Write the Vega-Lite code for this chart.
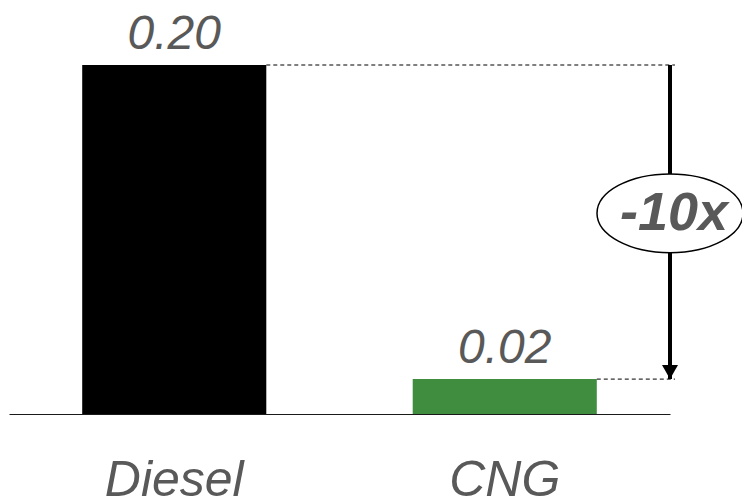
{
  "$schema": "https://vega.github.io/schema/vega-lite/v6.json",
  "width": 661,
  "height": 349,
  "autosize": {"type": "none"},
  "padding": {"left": 9, "top": 65, "right": 72, "bottom": 88},
  "background": "white",
  "config": {"view": {"stroke": null}, "font": "Liberation Sans"},
  "datasets": {
    "bars": [
      {"cat": "Diesel", "value": 0.20},
      {"cat": "CNG", "value": 0.02}
    ],
    "guides": [
      {"cat": "Diesel", "end": "CNG", "value": 0.20},
      {"cat": "CNG", "end": "CNG", "value": 0.02}
    ],
    "arrow": [
      {"cat": "CNG", "from": 0.20, "to": 0.02}
    ],
    "badge": [
      {"cat": "CNG", "v": 0.115, "label": "-10x"}
    ]
  },
  "encoding": {
    "x": {
      "field": "cat",
      "type": "nominal",
      "sort": ["Diesel", "CNG"],
      "scale": {"domain": ["Diesel", "CNG"], "paddingInner": 0, "paddingOuter": 0},
      "axis": {
        "title": null,
        "domain": true,
        "domainColor": "#1a1a1a",
        "domainWidth": 1,
        "ticks": false,
        "tickSize": 0,
        "grid": false,
        "labelAngle": 0,
        "labelFontSize": 50,
        "labelFontStyle": "italic",
        "labelColor": "#595959",
        "labelBaseline": "alphabetic",
        "labelPadding": 81,
        "labelFont": "Liberation Sans"
      }
    }
  },
  "layer": [
    {
      "data": {"name": "bars"},
      "mark": {"type": "bar", "width": {"band": 0.557}},
      "encoding": {
        "y": {"field": "value", "type": "quantitative", "scale": {"domain": [0, 0.2], "nice": false, "zero": true}, "axis": null},
        "color": {"field": "cat", "type": "nominal", "scale": {"domain": ["Diesel", "CNG"], "range": ["#000000", "#408d40"]}, "legend": null}
      }
    },
    {
      "data": {"name": "bars"},
      "mark": {"type": "text", "baseline": "alphabetic", "dy": -16, "fontSize": 48, "fontStyle": "italic", "color": "#595959", "font": "Liberation Sans"},
      "encoding": {
        "y": {"field": "value", "type": "quantitative"},
        "text": {"field": "value", "type": "quantitative", "format": ".2f"}
      }
    },
    {
      "data": {"name": "guides"},
      "mark": {"type": "rule", "strokeDash": [4, 3], "color": "#000000", "strokeWidth": 1},
      "encoding": {
        "x": {"field": "cat", "type": "nominal", "bandPosition": 0.7785},
        "x2": {"field": "end", "bandPosition": 1.015},
        "y": {"field": "value", "type": "quantitative"}
      }
    },
    {
      "data": {"name": "arrow"},
      "mark": {"type": "rule", "color": "#000000", "strokeWidth": 4, "strokeCap": "butt"},
      "encoding": {
        "x": {"field": "cat", "type": "nominal", "bandPosition": 1},
        "y": {"field": "from", "type": "quantitative"},
        "y2": {"field": "to"}
      }
    },
    {
      "data": {"name": "arrow"},
      "mark": {"type": "point", "shape": "M-1,-1.75L1,-1.75L0,0Z", "size": 256, "filled": true, "color": "#000000", "opacity": 1},
      "encoding": {
        "x": {"field": "cat", "type": "nominal", "bandPosition": 1},
        "y": {"field": "to", "type": "quantitative"}
      }
    },
    {
      "data": {"name": "badge"},
      "mark": {"type": "point", "shape": "M-1,0A1,0.54 0 1,1 1,0A1,0.54 0 1,1 -1,0Z", "size": 21316, "filled": false, "fill": "white", "fillOpacity": 1, "stroke": "#000000", "strokeWidth": 1.5, "opacity": 1},
      "encoding": {
        "x": {"field": "cat", "type": "nominal", "bandPosition": 1},
        "y": {"field": "v", "type": "quantitative"}
      }
    },
    {
      "data": {"name": "badge"},
      "mark": {"type": "text", "baseline": "middle", "align": "center", "dx": 4, "dy": 1, "fontSize": 54, "fontStyle": "italic", "fontWeight": "bold", "color": "#595959", "font": "Liberation Sans"},
      "encoding": {
        "x": {"field": "cat", "type": "nominal", "bandPosition": 1},
        "y": {"field": "v", "type": "quantitative"},
        "text": {"field": "label", "type": "nominal"}
      }
    }
  ]
}
